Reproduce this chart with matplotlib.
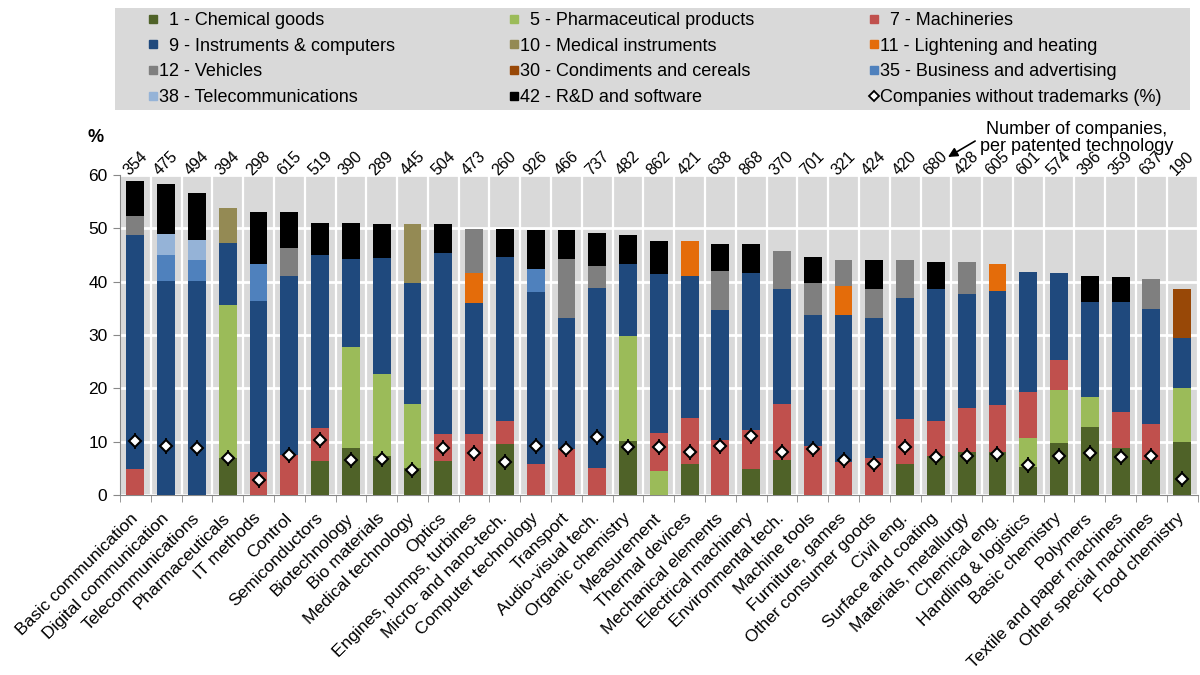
import numpy as np
import matplotlib
matplotlib.use("Agg")
import matplotlib.pyplot as plt
from matplotlib.lines import Line2D
from matplotlib.patches import Rectangle

plt.rcParams['font.family'] = ['Liberation Sans', 'DejaVu Sans']

techs = ["Basic communication", "Digital communication", "Telecommunications",
         "Pharmaceuticals", "IT methods", "Control", "Semiconductors",
         "Biotechnology", "Bio materials", "Medical technology", "Optics",
         "Engines, pumps, turbines", "Micro- and nano-tech.", "Computer technology",
         "Transport", "Audio-visual tech.", "Organic chemistry", "Measurement",
         "Thermal devices", "Mechanical elements", "Electrical machinery",
         "Environmental tech.", "Machine tools", "Furniture, games",
         "Other consumer goods", "Civil eng.", "Surface and coating",
         "Materials, metallurgy", "Chemical eng.", "Handling & logistics",
         "Basic chemistry", "Polymers", "Textile and paper machines",
         "Other special machines", "Food chemistry"]

n_companies = [354, 475, 494, 394, 298, 615, 519, 390, 289, 445, 504, 473, 260, 926,
               466, 737, 482, 862, 421, 638, 868, 370, 701, 321, 424, 420, 680, 428,
               605, 601, 574, 396, 359, 637, 190]

# trademark classes, share of companies (%) - stacked from bottom to top
chem = [0, 0, 0, 7.0, 0, 0, 6.4, 8.8, 7.3, 5.1, 6.3, 0, 9.6, 0, 0, 0, 10.1, 0,
        5.8, 0, 4.8, 6.5, 0, 0, 0, 5.8, 7.4, 8.1, 8.0, 5.3, 9.7, 12.8, 8.8, 6.6, 9.9]
pharma = [0, 0, 0, 28.7, 0, 0, 0, 19.0, 15.4, 11.9, 0, 0, 0, 0, 0, 0, 19.7, 4.5,
          0, 0, 0, 0, 0, 0, 0, 0, 0, 0, 0, 5.3, 9.9, 5.6, 0, 0, 10.2]
machin = [4.8, 0, 0, 0, 4.3, 7.5, 6.1, 0, 0, 0, 5.1, 11.4, 4.3, 5.8, 8.6, 5.1, 0, 7.1,
          8.7, 10.3, 7.4, 10.5, 9.1, 6.1, 6.9, 8.4, 6.5, 8.2, 8.8, 8.8, 5.7, 0, 6.8, 6.7, 0]
instr = [43.9, 40.1, 40.1, 11.6, 32.1, 33.5, 32.5, 16.4, 21.8, 22.7, 34.0, 24.6, 30.7,
         32.3, 24.6, 33.7, 13.6, 29.8, 26.6, 24.3, 29.5, 21.6, 24.6, 27.6, 26.3, 22.7,
         24.7, 21.4, 21.4, 22.5, 16.3, 17.7, 20.5, 21.5, 9.3]
medical = [0, 0, 0, 6.5, 0, 0, 0, 0, 0, 11.1, 0, 0, 0, 0, 0, 0, 0, 0,
           0, 0, 0, 0, 0, 0, 0, 0, 0, 0, 0, 0, 0, 0, 0, 0, 0]
lighting = [0, 0, 0, 0, 0, 0, 0, 0, 0, 0, 0, 5.7, 0, 0, 0, 0, 0, 0,
            6.6, 0, 0, 0, 0, 5.5, 0, 0, 0, 0, 5.1, 0, 0, 0, 0, 0, 0]
vehicles = [3.7, 0, 0, 0, 0, 5.4, 0, 0, 0, 0, 0, 8.2, 0, 0, 11.1, 4.1, 0, 0,
            0, 7.4, 0, 7.1, 6.0, 4.8, 5.4, 7.1, 0, 5.9, 0, 0, 0, 0, 0, 5.7, 0]
condiments = [0, 0, 0, 0, 0, 0, 0, 0, 0, 0, 0, 0, 0, 0, 0, 0, 0, 0,
              0, 0, 0, 0, 0, 0, 0, 0, 0, 0, 0, 0, 0, 0, 0, 0, 9.3]
business = [0, 4.9, 3.9, 0, 6.9, 0, 0, 0, 0, 0, 0, 0, 0, 4.2, 0, 0, 0, 0,
            0, 0, 0, 0, 0, 0, 0, 0, 0, 0, 0, 0, 0, 0, 0, 0, 0]
telecom = [0, 4.0, 3.8, 0, 0, 0, 0, 0, 0, 0, 0, 0, 0, 0, 0, 0, 0, 0,
           0, 0, 0, 0, 0, 0, 0, 0, 0, 0, 0, 0, 0, 0, 0, 0, 0]
rnd = [6.5, 9.3, 8.8, 0, 9.8, 6.7, 6.0, 6.8, 6.3, 0, 5.4, 0, 5.3, 7.3, 5.3, 6.2, 5.4, 6.3,
       0, 5.1, 5.4, 0, 4.9, 0, 5.4, 0, 5.0, 0, 0, 0, 0, 5.0, 4.7, 0, 0]

no_trademark = [10.1, 9.2, 8.9, 7.0, 2.9, 7.5, 10.4, 6.5, 6.7, 4.6, 8.8, 7.8, 6.1, 9.2,
                8.7, 10.9, 9.0, 9.0, 8.1, 9.2, 11.0, 8.1, 8.7, 6.5, 5.9, 9.0, 7.1, 7.4,
                7.6, 5.6, 7.4, 7.9, 7.1, 7.4, 3.0]

series = [
    ("  1 - Chemical goods", chem, "#4f6228"),
    ("  5 - Pharmaceutical products", pharma, "#9bbb59"),
    ("  7 - Machineries", machin, "#c0504d"),
    ("  9 - Instruments & computers", instr, "#1f497d"),
    ("10 - Medical instruments", medical, "#948a54"),
    ("11 - Lightening and heating", lighting, "#e46c0a"),
    ("12 - Vehicles", vehicles, "#7f7f7f"),
    ("30 - Condiments and cereals", condiments, "#984807"),
    ("35 - Business and advertising", business, "#4f81bd"),
    ("38 - Telecommunications", telecom, "#95b3d7"),
    ("42 - R&D and software", rnd, "#000000"),
]

fig = plt.figure(figsize=(12, 6.75), dpi=100)
ax = fig.add_axes([0.1, 1 - 495 / 675, 0.898, 320 / 675])
ax.set_facecolor("#d9d9d9")

x = np.arange(len(techs))
bottom = np.zeros(len(techs))
handles = {}
for label, vals, color in series:
    vals = np.array(vals)
    ax.bar(x, vals, 0.58, bottom=bottom, color=color, zorder=3)
    bottom += vals
    handles[label] = Line2D([], [], ls="none", marker="s", ms=5.2, mfc=color, mec=color)

ax.plot(x, no_trademark, ls="none", marker="|", ms=12, mew=1.3, color="black", zorder=4)
ax.plot(x, no_trademark, ls="none", marker="D", ms=6.5, mfc="white", mec="black",
        mew=1.5, zorder=5)

for xi, n in zip(x, n_companies):
    ax.annotate(str(n), (xi, 60), xytext=(0, -2), textcoords="offset points",
                rotation=45, ha="center", va="bottom", fontsize=11.5, annotation_clip=False)

ax.set_xlim(-0.5, len(techs) - 0.5)
ax.set_ylim(0, 60)
ax.set_yticks(np.arange(0, 61, 10))
ax.set_xticks(x)
ax.set_xticklabels(techs, rotation=45, ha="right", va="center",
                   rotation_mode="anchor", fontsize=12.5)
ax.set_xticks(np.arange(-0.5, len(techs)), minor=True)
ax.tick_params(axis="x", which="major", length=0, pad=15)
ax.tick_params(axis="x", which="minor", length=5, color="#888888")
ax.tick_params(axis="y", length=5, color="#888888", labelsize=12.5, pad=4)
ax.grid(which="minor", axis="x", color="white", lw=1.6)
ax.grid(which="major", axis="y", color="white", lw=2)
ax.set_axisbelow(True)
for s in ["top", "right"]:
    ax.spines[s].set_visible(False)
for s in ["left", "bottom"]:
    ax.spines[s].set_color("#888888")

fig.text(87 / 1200, 1 - 138 / 675, "%", fontsize=13, fontweight="bold", va="center")

ax.annotate("Number of companies,\nper patented technology", xy=(948, 675 - 157),
            xycoords="figure pixels", xytext=(1077, 675 - 138),
            textcoords="figure pixels", ha="center", va="center", fontsize=13,
            linespacing=1.0,
            arrowprops=dict(arrowstyle="-|>", color="black", lw=1.2,
                            mutation_scale=14, relpos=(0, 0.5), shrinkA=2, shrinkB=0))

# legend: gray box with three columns, filled row by row
fig.patches.append(Rectangle((115 / 1200, 1 - 110 / 675), 1075 / 1200, 102 / 675,
                             transform=fig.transFigure, facecolor="#d9d9d9",
                             edgecolor="none", zorder=0))
diamond = Line2D([], [], ls="none", marker="D", ms=5, mfc="white", mec="black", mew=1.3)
labels = [s[0] for s in series]
cols = [[labels[0], labels[3], labels[6], labels[9]],
        [labels[1], labels[4], labels[7], labels[10]],
        [labels[2], labels[5], labels[8], None]]
leg_h, leg_l = [], []
for col in cols:
    for lab in col:
        if lab is None:
            leg_h.append(diamond)
            leg_l.append("Companies without trademarks (%)")
        else:
            leg_h.append(handles[lab])
            leg_l.append(lab)
fig.legend(leg_h, leg_l, ncol=3, loc="upper left",
           bbox_to_anchor=(149 / 1200, 1 - 12 / 675), frameon=False, fontsize=13,
           borderpad=0, borderaxespad=0, handlelength=0.4, handletextpad=0.15,
           columnspacing=6.4, labelspacing=0.48)

fig.savefig("out.png", dpi=100)
